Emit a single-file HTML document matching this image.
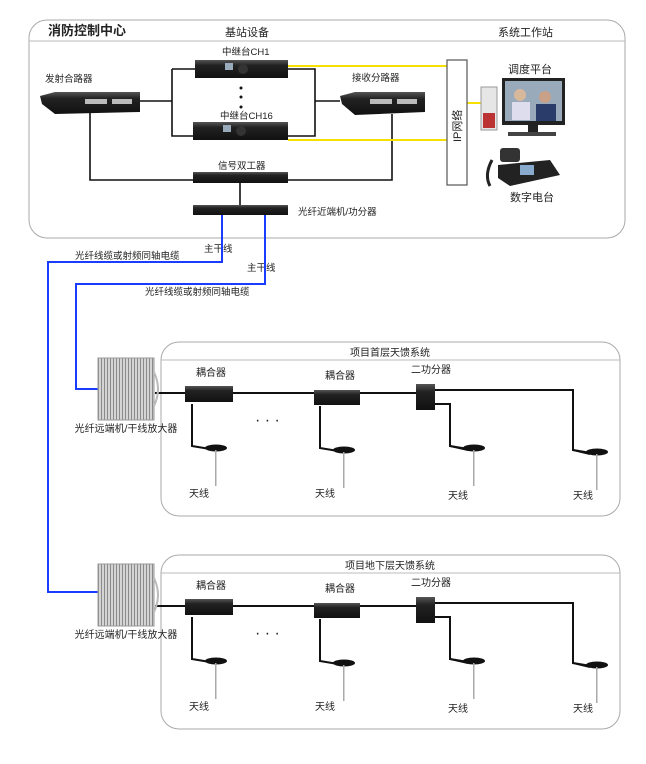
<!DOCTYPE html>
<html><head><meta charset="utf-8"><style>
body{margin:0;background:#fff}
svg{display:block;font-family:"Liberation Sans","Noto Sans CJK SC",sans-serif}
</style></head><body>
<svg width="646" height="764" viewBox="0 0 646 764">
<defs>
<linearGradient id="dev" x1="0" y1="0" x2="0" y2="1"><stop offset="0" stop-color="#555"/><stop offset="0.3" stop-color="#222"/><stop offset="1" stop-color="#111"/></linearGradient>
<pattern id="fins" width="3" height="4" patternUnits="userSpaceOnUse"><rect width="3" height="4" fill="#d4d4d4"/><rect width="1" height="4" fill="#8a8a8a"/></pattern>
<g id="ant"><path d="M0 0 L0 42 L24 46" fill="none" stroke="#111" stroke-width="2"/><ellipse cx="24" cy="44" rx="11" ry="3.5" fill="#111"/><rect x="23" y="46" width="1.5" height="36" fill="#aaa"/></g>
<g id="feeder">
<rect x="161" y="0" width="459" height="174" rx="18" fill="none" stroke="#aaa"/>
<line x1="161" y1="18" x2="620" y2="18" stroke="#bbb"/>
<path d="M155 51 L416 51" stroke="#111" stroke-width="2"/>
<path d="M435 48 L573 48 L573 108 L590 112" fill="none" stroke="#111" stroke-width="2"/>
<path d="M435 62 L450 62 L450 104 L468 108" fill="none" stroke="#111" stroke-width="2"/>
<rect x="185" y="44" width="48" height="16" fill="url(#dev)"/>
<rect x="314" y="48" width="46" height="15" fill="url(#dev)"/>
<rect x="416" y="42" width="19" height="26" fill="url(#dev)"/>
<use href="#ant" x="192" y="62"/>
<use href="#ant" x="320" y="64"/>
<use href="#ant" x="450" y="62"/>
<use href="#ant" x="573" y="66"/>
<text x="255" y="83" font-size="16" fill="#222">· · ·</text>
<text x="196" y="34" font-size="10" fill="#222">耦合器</text>
<text x="325" y="37" font-size="10" fill="#222">耦合器</text>
<text x="411" y="31" font-size="10" fill="#222">二功分器</text>
<g font-size="10" fill="#222"><text x="189" y="155">天线</text><text x="315" y="155">天线</text><text x="448" y="157">天线</text><text x="573" y="157">天线</text></g>
</g>
<g id="remote"><rect x="0" y="0" width="56" height="62" fill="url(#fins)" stroke="#999"/><path d="M56 14 Q64 31 56 48" fill="none" stroke="#bbb" stroke-width="2"/></g>
</defs>

<rect x="29" y="20" width="596" height="218" rx="18" fill="none" stroke="#aaa"/>
<line x1="29" y1="41" x2="625" y2="41" stroke="#bbb"/>
<text x="48" y="35" font-size="13" font-weight="bold" fill="#222">消防控制中心</text>
<text x="225" y="36" font-size="11" fill="#222">基站设备</text>
<text x="498" y="36" font-size="11" fill="#222">系统工作站</text>

<g fill="none" stroke="#111" stroke-width="1.6">
<path d="M140 101 L172 101 M172 69 L172 136 L193 136 M172 69 L195 69"/>
<path d="M288 69 L315 69 L315 136 L288 136 M315 101 L340 101"/>
<path d="M90 112 L90 180 L193 180 M288 180 L392 180 L392 114"/>
<path d="M240 183 L240 205"/>
</g>
<g stroke="#f5e000" stroke-width="2"><line x1="288" y1="66" x2="447" y2="66"/><line x1="288" y1="140" x2="447" y2="140"/><line x1="467" y1="103" x2="481" y2="103"/></g>

<rect x="195" y="60" width="93" height="18" fill="url(#dev)"/><rect x="225" y="63" width="8" height="7" fill="#9ab"/><circle cx="243" cy="69" r="5" fill="#333"/>
<rect x="193" y="122" width="95" height="18" fill="url(#dev)"/><rect x="223" y="125" width="8" height="7" fill="#9ab"/><circle cx="241" cy="131" r="5" fill="#333"/>
<g fill="#111"><circle cx="241" cy="88" r="1.5"/><circle cx="241" cy="97" r="1.5"/><circle cx="241" cy="107" r="1.5"/></g>
<polygon points="40,96 55,92 140,92 140,112 55,114 42,104" fill="url(#dev)"/><rect x="85" y="99" width="22" height="5" fill="#bbb"/><rect x="112" y="99" width="20" height="5" fill="#bbb"/>
<polygon points="340,96 355,92 425,92 425,112 355,115 342,104" fill="url(#dev)"/><rect x="370" y="99" width="22" height="5" fill="#bbb"/><rect x="397" y="99" width="20" height="5" fill="#bbb"/>
<rect x="193" y="172" width="95" height="11" fill="url(#dev)"/>
<rect x="193" y="205" width="95" height="10" fill="url(#dev)"/>

<rect x="447" y="60" width="20" height="125" fill="#fff" stroke="#555" stroke-width="1.2"/>
<text transform="translate(461,142) rotate(-90)" font-size="11" fill="#222">IP网络</text>

<rect x="481" y="87" width="16" height="43" fill="#e6e6e6" stroke="#999"/><rect x="483" y="113" width="12" height="15" fill="#b33"/>
<rect x="502" y="78" width="63" height="47" fill="#222"/><rect x="505" y="81" width="57" height="40" fill="#9ab"/><circle cx="520" cy="95" r="6" fill="#d8b89a"/><rect x="512" y="102" width="18" height="18" fill="#dde"/><circle cx="545" cy="97" r="6" fill="#c9a088"/><rect x="536" y="104" width="20" height="17" fill="#2a3d6a"/>
<rect x="528" y="125" width="10" height="7" fill="#222"/><rect x="508" y="132" width="48" height="4" fill="#444"/>
<text x="508" y="73" font-size="11" fill="#222">调度平台</text>
<path d="M492 160 Q484 175 490 186" fill="none" stroke="#222" stroke-width="3"/>
<rect x="500" y="148" width="20" height="14" rx="3" fill="#333"/>
<polygon points="498,165 550,160 560,175 510,186 498,178" fill="#222"/><rect x="520" y="165" width="14" height="10" fill="#8ac"/>
<text x="510" y="201" font-size="11" fill="#222">数字电台</text>

<g font-size="9.5" fill="#222">
<text x="222" y="55">中继台CH1</text>
<text x="220" y="119">中继台CH16</text>
<text x="45" y="82">发射合路器</text>
<text x="352" y="81">接收分路器</text>
<text x="218" y="169">信号双工器</text>
<text x="298" y="215">光纤近端机/功分器</text>
<text x="204" y="252">主干线</text>
<text x="75" y="259">光纤线缆或射频同轴电缆</text>
<text x="247" y="271">主干线</text>
<text x="145" y="295">光纤线缆或射频同轴电缆</text>
</g>

<g fill="none" stroke="#1a3cff" stroke-width="2">
<path d="M222 215 L222 262 L48 262 L48 592 L100 592"/>
<path d="M265 215 L265 284 L76 284 L76 389 L98 389"/>
</g>

<use href="#feeder" y="342"/>
<text x="390" y="356" font-size="10" fill="#222" text-anchor="middle">项目首层天馈系统</text>
<use href="#remote" x="98" y="358"/>
<text x="126" y="432" font-size="10" fill="#222" text-anchor="middle">光纤远端机/干线放大器</text>

<use href="#feeder" y="555"/>
<text x="390" y="569" font-size="10" fill="#222" text-anchor="middle">项目地下层天馈系统</text>
<use href="#remote" x="98" y="564"/>
<text x="126" y="638" font-size="10" fill="#222" text-anchor="middle">光纤远端机/干线放大器</text>
</svg>
</body></html>
